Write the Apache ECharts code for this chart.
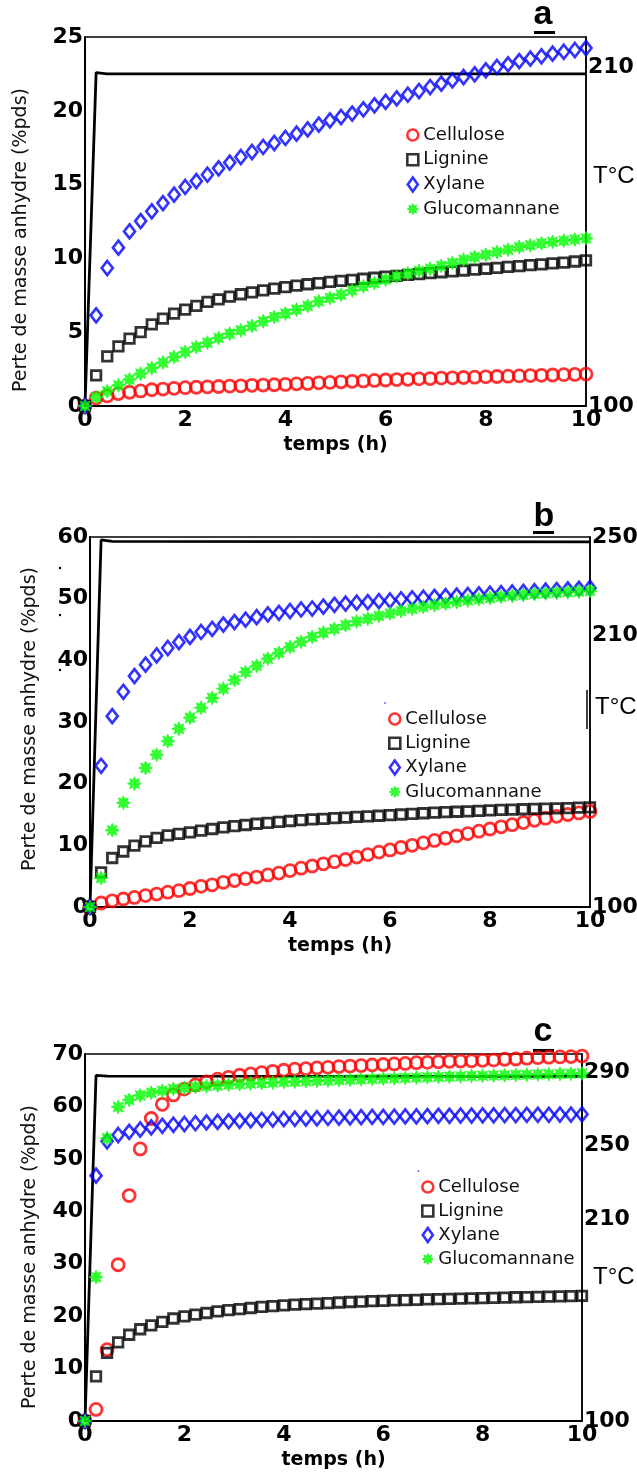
<!DOCTYPE html>
<html>
<head>
<meta charset="utf-8">
<script src="https://cdn.jsdelivr.net/npm/echarts@6/dist/echarts.min.js"></script>
<style>
html,body{margin:0;padding:0;background:#fff;}
#chart{width:637px;height:1474px;}
</style>
</head>
<body>
<div id="chart"></div>
<script>
// ---------- data ----------
const seriesNames = ['Cellulose', 'Lignine', 'Xylane', 'Glucomannane'];
const time = [0,0.222,0.444,0.667,0.889,1.111,1.333,1.556,1.778,2,
  2.222,2.444,2.667,2.889,3.111,3.333,3.556,3.778,4,
  4.222,4.444,4.667,4.889,5.111,5.333,5.556,5.778,6,
  6.222,6.444,6.667,6.889,7.111,7.333,7.556,7.778,8,
  8.222,8.444,8.667,8.889,9.111,9.333,9.556,9.778,10];
const xTicks = [0, 10, 2];

// panel a (210 °C)
const celluloseA = [0,0.54,0.68,0.84,0.93,1.02,1.1,1.15,1.2,1.24,1.27,1.3,1.32,1.35,1.37,1.4,1.42,1.44,1.46,1.5,1.53,1.57,1.6,1.64,1.67,1.7,1.73,1.76,1.79,1.81,1.84,1.86,1.89,1.91,1.93,1.95,1.98,2.0,2.02,2.04,2.06,2.08,2.1,2.12,2.14,2.16];
const ligninA = [0,2.08,3.36,4.04,4.56,5.01,5.53,5.92,6.26,6.53,6.78,7.05,7.23,7.41,7.57,7.7,7.84,7.95,8.06,8.15,8.25,8.33,8.41,8.48,8.55,8.62,8.69,8.76,8.82,8.88,8.94,9.0,9.06,9.12,9.18,9.24,9.3,9.36,9.42,9.48,9.54,9.6,9.66,9.72,9.79,9.87];
const xylaneA = [0,6.14,9.35,10.73,11.83,12.53,13.19,13.75,14.32,14.84,15.24,15.67,16.1,16.49,16.87,17.21,17.55,17.82,18.16,18.45,18.74,19.06,19.35,19.58,19.81,20.1,20.37,20.6,20.84,21.09,21.34,21.61,21.84,22.06,22.29,22.47,22.74,22.97,23.15,23.37,23.53,23.69,23.87,24.0,24.12,24.25];
const glucoA = [0,0.6,1.0,1.4,1.8,2.19,2.57,2.94,3.32,3.66,4.0,4.29,4.61,4.9,5.13,5.42,5.74,6.03,6.26,6.53,6.78,7.09,7.32,7.54,7.84,8.11,8.33,8.56,8.78,8.97,9.15,9.3,9.49,9.69,9.91,10.09,10.25,10.43,10.59,10.77,10.89,11.02,11.12,11.2,11.28,11.36];

// panel b (250 °C)
const celluloseB = [0,0.65,1.0,1.3,1.55,1.85,2.1,2.4,2.65,3.0,3.35,3.6,4.0,4.3,4.6,4.85,5.2,5.5,5.9,6.3,6.65,7.0,7.35,7.7,8.1,8.5,8.9,9.25,9.65,10.0,10.4,10.8,11.15,11.55,11.9,12.3,12.65,13.0,13.35,13.7,14.05,14.4,14.7,15.0,15.25,15.5];
const ligninB = [0,5.6,7.95,9.0,9.95,10.65,11.2,11.6,11.85,12.1,12.4,12.65,12.9,13.1,13.3,13.5,13.65,13.8,13.95,14.1,14.2,14.3,14.4,14.5,14.6,14.7,14.8,14.9,15.0,15.1,15.2,15.3,15.38,15.45,15.52,15.6,15.68,15.75,15.8,15.85,15.9,15.95,16.0,16.05,16.1,16.15];
const xylaneB = [0,22.9,30.95,34.9,37.45,39.3,40.8,42.0,42.95,43.8,44.6,45.1,45.8,46.2,46.6,47.0,47.45,47.7,48.0,48.25,48.4,48.7,49.0,49.2,49.35,49.45,49.6,49.7,49.9,50.05,50.15,50.3,50.4,50.5,50.6,50.7,50.8,50.9,51.0,51.1,51.2,51.3,51.4,51.5,51.6,51.75];
const glucoB = [0,4.7,12.45,16.9,20.0,22.55,24.7,26.9,28.9,30.7,32.3,33.9,35.4,36.8,38.1,39.1,40.25,41.2,42.15,43.0,43.8,44.5,45.1,45.7,46.3,46.75,47.2,47.6,48.0,48.35,48.65,48.95,49.2,49.45,49.7,49.9,50.1,50.3,50.45,50.6,50.75,50.85,50.95,51.05,51.15,51.25];

// panel c (290 °C)
const celluloseC = [0,2.2,13.6,29.8,43.0,51.9,57.7,60.4,62.2,63.3,64.1,64.7,65.2,65.55,65.95,66.2,66.45,66.7,66.9,67.1,67.2,67.35,67.45,67.6,67.7,67.8,67.9,68.0,68.1,68.2,68.35,68.4,68.5,68.6,68.65,68.7,68.8,68.85,69.0,69.05,69.2,69.3,69.4,69.45,69.5,69.6];
const ligninC = [0,8.5,13.0,15.0,16.45,17.5,18.25,18.9,19.55,19.95,20.3,20.6,20.9,21.15,21.35,21.55,21.75,21.9,22.05,22.2,22.3,22.4,22.5,22.6,22.7,22.78,22.85,22.92,23.0,23.06,23.12,23.18,23.24,23.3,23.35,23.4,23.45,23.5,23.55,23.6,23.64,23.68,23.72,23.76,23.8,23.85];
const xylaneC = [0,46.8,53.35,54.55,55.15,55.6,56.0,56.3,56.5,56.65,56.8,56.95,57.05,57.15,57.25,57.35,57.45,57.5,57.6,57.65,57.7,57.75,57.8,57.85,57.9,57.95,58.0,58.0,58.05,58.1,58.1,58.15,58.2,58.2,58.25,58.25,58.3,58.3,58.35,58.35,58.4,58.4,58.4,58.45,58.45,58.5];
const glucoC = [0,27.45,53.95,59.9,61.25,62.1,62.6,63.0,63.35,63.55,63.7,63.85,64.0,64.15,64.25,64.35,64.45,64.55,64.65,64.72,64.8,64.88,64.95,65.02,65.1,65.17,65.24,65.3,65.37,65.43,65.5,65.56,65.62,65.68,65.74,65.8,65.85,65.9,65.95,66.0,66.05,66.1,66.15,66.2,66.25,66.3];

// temperature profiles (right axis, °C)
const tempTime = [0, 0.222, 0.444, 10];
const tempA = [100, 208.4, 208.0, 208.0];
const tempB = [100, 248.8, 248.2, 248.0];
const tempC = [100, 288.3, 287.9, 287.8];

// axis ranges / tick labels
const leftMax = [25, 60, 70];
const leftInterval = [5, 10, 10];
const rightMax = [220, 250, 300];
const rightTickLabels = [[100, 210], [100, 210, 250], [100, 210, 250, 290]];
const panelLetters = ['a', 'b', 'c'];
const yTitle = 'Perte de masse anhydre (%pds)';
const xTitle = 'temps (h)';
const tempUnit = 'T°C';

// ---------- styles ----------
const squarePath = 'path://M0,0L10,0L10,10L0,10Z';
const diamondPath = 'path://M5,0L10,7L5,14L0,7Z';
const starPath = 'path://M20,10L15.08,12.1L17.07,17.07L12.1,15.08L10,20L7.9,15.08L2.93,17.07L4.92,12.1L0,10L4.92,7.9L2.93,2.93L7.9,4.92L10,0L12.1,4.92L17.07,2.93L15.08,7.9Z';
const markerStyle = {
  'Cellulose':    {symbol: 'circle',    symbolSize: 12,        itemStyle: {color: 'rgba(0,0,0,0)', borderColor: '#ff0000', borderWidth: 2.8}},
  'Lignine':      {symbol: squarePath,  symbolSize: 9.5,       itemStyle: {color: 'rgba(0,0,0,0)', borderColor: '#000000', borderWidth: 2.8}},
  'Xylane':       {symbol: diamondPath, symbolSize: [11, 14],  itemStyle: {color: 'rgba(0,0,0,0)', borderColor: '#0000ff', borderWidth: 2.7}},
  'Glucomannane': {symbol: starPath,    symbolSize: 14,        itemStyle: {color: '#00ff00', borderColor: '#00ff00', borderWidth: 0.8}}
};
const legendIcons = {
  'Cellulose': {icon: 'circle', itemStyle: {borderWidth: 2.6}},
  'Lignine': {icon: squarePath, itemStyle: {borderWidth: 2.6}},
  'Xylane': {icon: diamondPath, itemStyle: {borderWidth: 2.6}},
  'Glucomannane': {icon: starPath, itemStyle: {borderWidth: 1}}
};

const panels = [
  {vals: [celluloseA, ligninA, xylaneA, glucoA], temp: tempA},
  {vals: [celluloseB, ligninB, xylaneB, glucoB], temp: tempB},
  {vals: [celluloseC, ligninC, xylaneC, glucoC], temp: tempC}
];

const gridPos = [
  {left: 85, top: 37, width: 501, height: 369},
  {left: 90, top: 537, width: 500, height: 370},
  {left: 85, top: 1054, width: 497, height: 367}
];
const legendPos = [
  {left: 406, top: 126, itemGap: 6.7},
  {left: 388, top: 710, itemGap: 6.3},
  {left: 421, top: 1178, itemGap: 6}
];
const tickFont = {fontFamily: 'DejaVu Sans', fontWeight: 'bold', fontSize: 22, color: '#000'};

const grid = gridPos.map(g => Object.assign({
  show: true, borderColor: '#000', borderWidth: 1.5, backgroundColor: 'transparent',
  containLabel: false, outerBoundsMode: 'none'
}, g));

const xAxis = [0, 1, 2].map(i => ({
  type: 'value', gridIndex: i, min: xTicks[0], max: xTicks[1], interval: xTicks[2],
  axisLine: {show: true, onZero: false, lineStyle: {color: '#000', width: 2}},
  axisTick: {show: false}, splitLine: {show: false},
  axisLabel: Object.assign({margin: 3}, tickFont),
  name: xTitle, nameLocation: 'middle', nameGap: 30,
  nameTextStyle: {fontFamily: 'DejaVu Sans', fontWeight: 'bold', fontSize: 19, color: '#000'}
}));

const yAxis = [];
[0, 1, 2].forEach(i => {
  yAxis.push({
    type: 'value', gridIndex: i, position: 'left', min: 0, max: leftMax[i], interval: leftInterval[i],
    axisLine: {show: true, onZero: false, lineStyle: {color: '#000', width: 2}},
    axisTick: {show: false}, splitLine: {show: false},
    axisLabel: Object.assign({margin: 2}, tickFont)
  });
  const labs = rightTickLabels[i];
  yAxis.push({
    type: 'value', gridIndex: i, position: 'right', min: 100, max: rightMax[i], interval: 10,
    axisLine: {show: true, onZero: false, lineStyle: {color: '#000', width: 1.5}},
    axisTick: {show: false}, splitLine: {show: false},
    axisLabel: Object.assign({margin: 2, formatter: v => labs.indexOf(v) >= 0 ? String(v) : ''}, tickFont)
  });
});

const series = [];
panels.forEach((p, i) => {
  series.push({
    type: 'line', name: 'T', xAxisIndex: i, yAxisIndex: 2 * i + 1, z: 1,
    data: tempTime.map((t, k) => [t, p.temp[k]]),
    showSymbol: false, symbol: 'none', lineStyle: {color: '#000', width: 2.8}, silent: true
  });
  seriesNames.forEach((n, s) => {
    series.push(Object.assign({
      type: 'scatter', name: n, xAxisIndex: i, yAxisIndex: 2 * i, z: 2,
      data: time.map((t, k) => [t, p.vals[s][k]]), silent: true
    }, markerStyle[n]));
  });
});

const legend = legendPos.map(l => ({
  orient: 'vertical', left: l.left, top: l.top, itemGap: l.itemGap,
  itemWidth: 11, itemHeight: 14, selectedMode: false, padding: 0,
  textStyle: {fontFamily: 'DejaVu Sans', fontSize: 18, color: '#111', lineHeight: 18},
  data: seriesNames.map(n => Object.assign({name: n}, legendIcons[n]))
}));

const titlePos = [[21.5, 240], [30, 719], [30, 1257]];
const unitPos = [[593, 176], [595, 707], [593, 1277]];
const letterPos = [[543, 15], [544, 517], [543, 1032]];
const underline = [[534, 31], [533, 531], [533, 1049]];

const graphic = [];
[0, 1, 2].forEach(i => {
  graphic.push({type: 'text', x: titlePos[i][0], y: titlePos[i][1], rotation: Math.PI / 2, silent: true,
    style: {text: yTitle, fontFamily: 'DejaVu Sans', fontSize: 19, fill: '#111', align: 'center', verticalAlign: 'middle'}});
  graphic.push({type: 'text', x: unitPos[i][0], y: unitPos[i][1], silent: true,
    style: {text: tempUnit, fontFamily: 'Liberation Sans', fontSize: 24, fill: '#000', align: 'left', verticalAlign: 'middle'}});
  graphic.push({type: 'text', x: letterPos[i][0], y: letterPos[i][1], silent: true,
    style: {text: panelLetters[i], fontFamily: 'Liberation Sans', fontWeight: 'bold', fontSize: 34, fill: '#000', align: 'center', verticalAlign: 'middle'}});
  graphic.push({type: 'rect', silent: true, shape: {x: underline[i][0], y: underline[i][1], width: 21, height: 3}, style: {fill: '#000'}});
});
// small stray marks of the original figure
graphic.push({type: 'line', silent: true, shape: {x1: 587, y1: 690, x2: 587, y2: 729}, style: {stroke: '#000', lineWidth: 1.5}});
[[60, 568], [60, 615], [60, 670]].forEach(d => graphic.push({type: 'circle', silent: true, shape: {cx: d[0], cy: d[1], r: 1.2}, style: {fill: '#000'}}));
[[385, 703], [418.5, 1171]].forEach(d => graphic.push({type: 'circle', silent: true, shape: {cx: d[0], cy: d[1], r: 0.8}, style: {fill: '#0000ff'}}));

const chart = echarts.init(document.getElementById('chart'), null, {renderer: 'canvas'});
chart.setOption({
  backgroundColor: '#fff',
  animation: false,
  grid, xAxis, yAxis, series, legend, graphic
});
</script>
</body>
</html>
